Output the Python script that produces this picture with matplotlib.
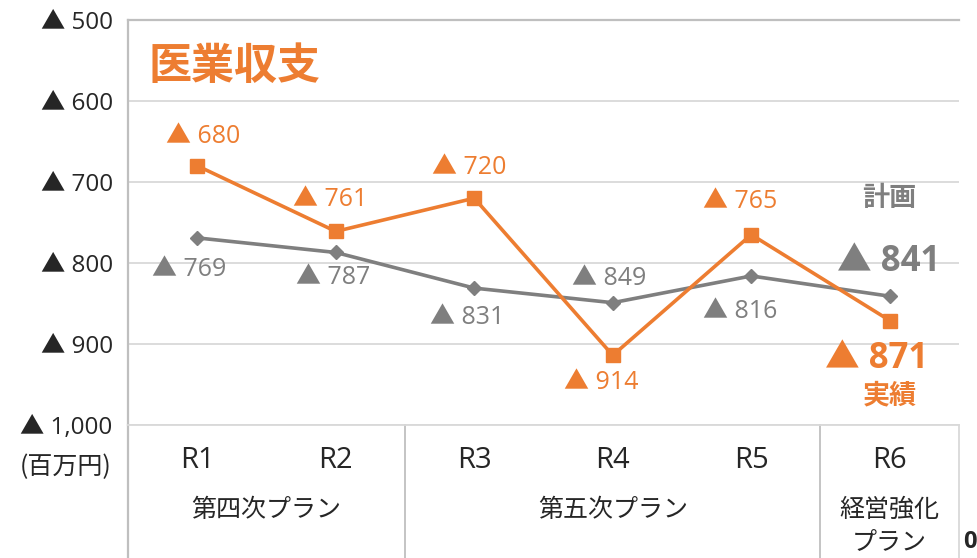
import matplotlib
matplotlib.use('Agg')
import matplotlib.pyplot as plt
from matplotlib.ticker import FuncFormatter
import matplotlib.transforms as mtransforms

plt.rcParams['font.family'] = ['Open Sans', 'Noto Sans CJK JP', 'DejaVu Sans']
CJK = ['Noto Sans CJK JP', 'DejaVu Sans']

ORANGE = '#ED7D31'
GRAY = '#7F7F7F'
DARK = '#262626'

years = ['R1', 'R2', 'R3', 'R4', 'R5', 'R6']
actual = [680, 761, 720, 914, 765, 871]   # 実績 (▲ = deficit)
plan = [769, 787, 831, 849, 816, 841]     # 計画
groups = ['第四次プラン', '第五次プラン', '経営強化\nプラン']
group_center = [0.5, 3, 5]
group_edges = [1.5, 4.5]
yticks = [500, 600, 700, 800, 900, 1000]

# label offsets in pixels from each point (R1..R5); R6 is drawn bigger below
act_off = [(6, 29), (-6, 32), (-5, 31), (-11, -27), (-11, 33)]
plan_off = [(-8, -32), (-3, -25), (-7, -29), (-4, 24), (-11, -36)]

fig = plt.figure(figsize=(9.78, 5.58), dpi=100)
ax = fig.add_axes([128/978, 1 - 425/558, (959 - 128)/978, 405/558])

x = range(len(years))
ax.plot(x, plan, color=GRAY, lw=2.6, marker='D', ms=7.5, zorder=3)
ax.plot(x, actual, color=ORANGE, lw=2.6, marker='s', ms=9.5, zorder=4)

ax.set_xlim(-0.5, 5.5)
ax.set_ylim(1000, 500)
ax.set_yticks(yticks)
ax.yaxis.set_major_formatter(FuncFormatter(lambda v, p: '▲ ' + format(int(v), ',')))
ax.tick_params(axis='y', length=0, labelsize=17.5, labelcolor=DARK, pad=11)
ax.set_xticks([])
ax.grid(axis='y', color='#D9D9D9', lw=1.3)
ax.set_axisbelow(True)
ax.spines['right'].set_visible(False)
ax.spines['top'].set_color('#BFBFBF')
ax.spines['top'].set_linewidth(1.6)
ax.spines['bottom'].set_color('#D9D9D9')
ax.spines['bottom'].set_linewidth(1.3)
ax.spines['left'].set_color('#BFBFBF')
ax.spines['left'].set_linewidth(1.6)

# table-style separators under the axis
trans = mtransforms.blended_transform_factory(ax.transData, ax.transAxes)
for xe in group_edges:
    ax.plot([xe, xe], [0, -0.33], transform=trans, color='#BFBFBF', lw=1.3, clip_on=False)
ax.plot([5.5, 5.5], [0, -0.33], transform=trans, color='#D9D9D9', lw=1.3, clip_on=False)
ax.plot([-0.5, -0.5], [0, -0.33], transform=trans, color='#BFBFBF', lw=1.6, clip_on=False)

for i, yr in enumerate(years):
    ax.text(i, -0.087, yr, transform=trans, ha='center', va='center', fontsize=21, color=DARK)
for gc, g in zip(group_center, groups):
    ax.text(gc, -0.178, g, transform=trans, ha='center', va='top', fontsize=18,
            color=DARK, linespacing=1.3, family=CJK)

fig.text(66/978, 1 - 467/558, '(百万円)', ha='center', va='center', fontsize=18,
         color=DARK, family=CJK)

# data labels
for i in range(5):
    ax.annotate('▲ ' + str(actual[i]), (i, actual[i]), xytext=act_off[i], textcoords='offset pixels',
                ha='center', va='center', fontsize=18, color=ORANGE)
    ax.annotate('▲ ' + str(plan[i]), (i, plan[i]), xytext=plan_off[i], textcoords='offset pixels',
                ha='center', va='center', fontsize=18, color=GRAY)

ax.annotate('▲ ' + str(actual[5]), (5, actual[5]), xytext=(-13, -38), textcoords='offset pixels',
            ha='center', va='center', fontsize=25, fontweight='bold', color=ORANGE)
ax.annotate('実績', (5, actual[5]), xytext=(0, -75), textcoords='offset pixels',
            ha='center', va='center', fontsize=19.5, fontweight='bold', color=ORANGE, family=CJK)
ax.annotate('▲ ' + str(plan[5]), (5, plan[5]), xytext=(-1, 34), textcoords='offset pixels',
            ha='center', va='center', fontsize=25, fontweight='bold', color=GRAY)
ax.annotate('計画', (5, plan[5]), xytext=(0, 98), textcoords='offset pixels',
            ha='center', va='center', fontsize=19.5, fontweight='bold', color=GRAY, family=CJK)

ax.text(21/831, 1 - 46/405, '医業収支', transform=ax.transAxes, ha='left', va='center',
        fontsize=31, fontweight='bold', color=ORANGE, family=CJK)

fig.text(0.992, 1 - 542/558, '0', ha='center', va='center', fontsize=17, fontweight='bold', color=DARK)

fig.savefig('out.png', dpi=100)
